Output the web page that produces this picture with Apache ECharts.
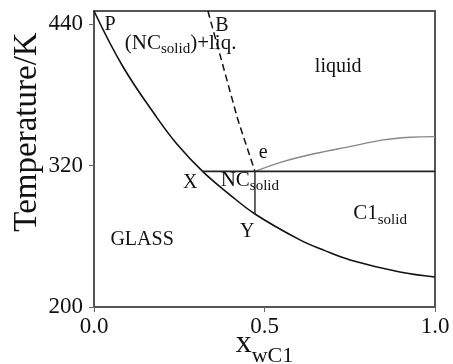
<!DOCTYPE html>
<html><head><meta charset="utf-8">
<script src="https://cdn.jsdelivr.net/npm/echarts@6/dist/echarts.min.js"></script>
<style>html,body{margin:0;padding:0;background:#fff}#c{width:453px;height:364px}</style>
</head><body><div id="c"></div>
<script>
// Glass transition curve (P -> X -> Y)
const glassX = [0.0, 0.085, 0.185, 0.243, 0.320, 0.396, 0.472, 0.604, 0.677, 0.751, 0.897, 1.0];
const glassT = [451, 403.7, 360.4, 338.3, 314.6, 295.8, 278.9, 256.9, 247.8, 239.9, 229.7, 225.5];
// Dashed liquidus (B -> e)
const liqX = [0.334, 0.422, 0.472];
const liqT = [451, 358.7, 315];
// Grey curve from e to the right
const greyX = [0.472, 0.554, 0.652, 0.750, 0.848, 0.927, 1.0];
const greyT = [315, 323.3, 330.4, 336.0, 341.7, 344.0, 344.5];
// Eutectic horizontal line
const eutX = [0.320, 1.0];
const eutT = [315, 315];
// Vertical line at NC composition
const ncX = [0.472, 0.472];
const ncT = [315, 278.9];
// Tick labels
const xTicks = [0.0, 0.5, 1.0];
const yTicks = [200, 320, 440];
// Region labels
const labelText = ['P', 'B', '{m|(NC}{s|solid}{m|)+liq.}', 'liquid', 'e', 'X', '{m|NC}{s|solid}', 'Y', '{m|C1}{s|solid}', 'GLASS'];
const labelX = [0.047, 0.375, 0.254, 0.716, 0.496, 0.282, 0.457, 0.449, 0.839, 0.141];
const labelT = [439, 438.5, 421, 403.5, 330.5, 305, 305, 263.8, 276.5, 257];

const FONT = 'Liberation Serif';
const TXT = '#111';
const pairs = (xs, ys) => xs.map((x, i) => [x, ys[i]]);

const rich = {
  n: {fontFamily: FONT, fontSize: 20, color: TXT, lineHeight: 20},
  m: {fontFamily: FONT, fontSize: 21, color: TXT, lineHeight: 21, padding: [0, 0, 6, 0]},
  s: {fontFamily: FONT, fontSize: 15, color: TXT, lineHeight: 15, verticalAlign: 'bottom'}
};

const chart = echarts.init(document.getElementById('c'), null, {renderer: 'canvas'});
const lineBase = {type: 'line', showSymbol: false, symbol: 'none', silent: true, animation: false, z: 3};

chart.setOption({
  animation: false,
  grid: {left: 94, right: 18, top: 11, bottom: 57, containLabel: false, outerBoundsMode: 'none',
         show: true, borderColor: '#555', borderWidth: 2, backgroundColor: 'transparent'},
  xAxis: {
    type: 'value', min: 0, max: 1, interval: 0.5,
    axisLine: {show: true, lineStyle: {color: '#555', width: 2}},
    axisTick: {show: true, length: 5, lineStyle: {color: '#666', width: 1}},
    splitLine: {show: false},
    axisLabel: {fontFamily: FONT, fontSize: 23, color: TXT, margin: 8,
                formatter: v => xTicks.includes(v) ? v.toFixed(1) : ''},
    name: '{m|x}{s|wC1}', nameLocation: 'middle', nameGap: 28, nameMoveOverlap: false,
    nameTextStyle: {rich: {
      m: {fontFamily: FONT, fontSize: 32, color: TXT, lineHeight: 32, padding: [0, 0, 14, 0]},
      s: {fontFamily: FONT, fontSize: 22, color: TXT, lineHeight: 22, verticalAlign: 'bottom'}
    }}
  },
  yAxis: {
    type: 'value', min: 200, max: 451,
    axisLine: {show: true, lineStyle: {color: '#555', width: 2}},
    axisTick: {show: true, length: 5, customValues: yTicks, lineStyle: {color: '#666', width: 1}},
    splitLine: {show: false},
    axisLabel: {fontFamily: FONT, fontSize: 23, color: TXT, margin: 11, customValues: yTicks},
    name: 'Temperature/K', nameLocation: 'middle', nameGap: 50, nameRotate: 90, nameMoveOverlap: false,
    nameTextStyle: {fontFamily: FONT, fontSize: 33, color: TXT, padding: [0, 0, 0, 54]}
  },
  series: [
    Object.assign({}, lineBase, {data: pairs(glassX, glassT), smooth: 0.4,
      lineStyle: {color: '#111', width: 1.6}}),
    Object.assign({}, lineBase, {data: pairs(liqX, liqT), smooth: false,
      lineStyle: {color: '#111', width: 1.5, type: [7, 4]}}),
    Object.assign({}, lineBase, {data: pairs(greyX, greyT), smooth: 0.35,
      lineStyle: {color: '#888', width: 1.4}}),
    Object.assign({}, lineBase, {data: pairs(eutX, eutT),
      lineStyle: {color: '#222', width: 1.6}}),
    Object.assign({}, lineBase, {data: pairs(ncX, ncT),
      lineStyle: {color: '#222', width: 1.4}}),
    {
      type: 'scatter', symbolSize: 0, silent: true, animation: false, z: 5,
      data: labelText.map((t, i) => ({
        value: [labelX[i], labelT[i]],
        label: {show: true, position: 'inside', align: 'center', verticalAlign: 'middle',
                textBorderWidth: 0, opacity: 1,
                formatter: t.startsWith('{') ? t : '{n|' + t + '}', rich: rich}
      }))
    }
  ]
});
</script></body></html>
